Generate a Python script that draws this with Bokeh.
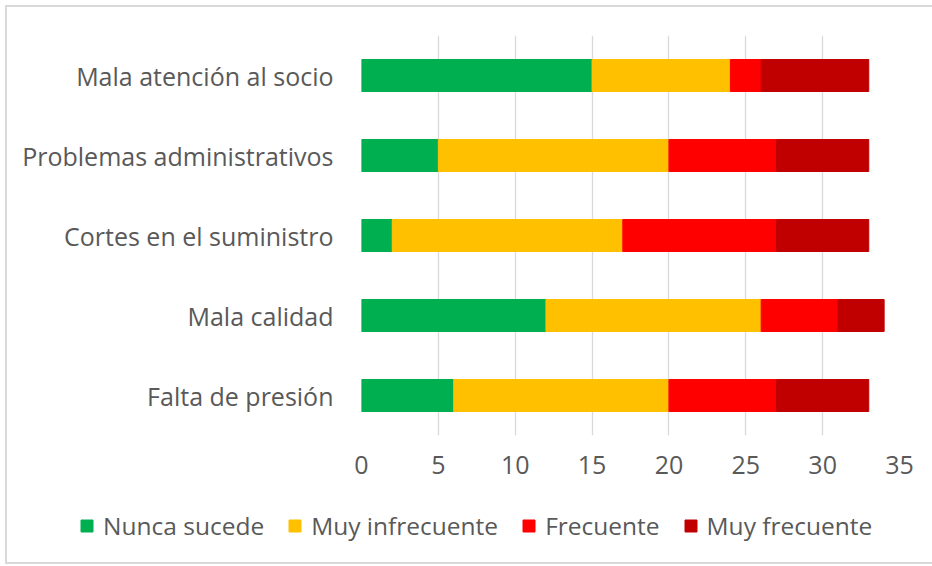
from bokeh.plotting import figure
from bokeh.models import ColumnDataSource, Legend, LegendItem, FactorRange, Range1d
from bokeh.layouts import column
from bokeh.embed import file_html
from bokeh.resources import INLINE

categories = ["Falta de presión", "Mala calidad", "Cortes en el suministro",
              "Problemas administrativos", "Mala atención al socio"]
series = ["Nunca sucede", "Muy infrecuente", "Frecuente", "Muy frecuente"]
nunca = [6, 12, 2, 5, 15]
muy_infrecuente = [14, 14, 15, 15, 9]
frecuente = [7, 5, 10, 7, 2]
muy_frecuente = [6, 3, 6, 6, 7]
colors = ["#00B050", "#FFC000", "#FF0000", "#C00000"]
x_ticks = [0, 5, 10, 15, 20, 25, 30, 35]

FONT = "Open Sans"
TXT = "#595959"
W = 925
OFF = 7  # offset of the chart area inside the light grey border

source = ColumnDataSource(dict(cat=categories, s0=nunca, s1=muy_infrecuente,
                               s2=frecuente, s3=muy_frecuente))

p = figure(width=W, height=483, y_range=FactorRange(factors=categories),
           x_range=Range1d(0, 35), output_backend="svg", toolbar_location=None)
p.border_fill_color = "white"
p.outline_line_color = None
p.frame_align = False

renderers = p.hbar_stack(["s0", "s1", "s2", "s3"], y="cat", height=0.4,
                         color=colors, source=source)

p.ygrid.grid_line_color = None
p.xgrid.grid_line_color = "#D9D9D9"
p.xgrid.grid_line_width = 1.3
p.xaxis.ticker = x_ticks
p.xaxis.axis_line_color = None
p.xaxis.major_tick_line_color = None
p.xaxis.minor_tick_line_color = None
p.xaxis.major_label_text_font = FONT
p.xaxis.major_label_text_font_size = "25px"
p.xaxis.major_label_text_color = TXT
p.xaxis.major_label_standoff = 14

p.yaxis.axis_line_color = None
p.yaxis.major_tick_line_color = None
p.yaxis.minor_tick_line_color = None
p.yaxis.major_label_text_font = FONT
p.yaxis.major_label_text_font_size = "25px"
p.yaxis.major_label_text_color = TXT
p.yaxis.major_label_standoff = 22

p.min_border = 0
p.min_border_left = 361 - OFF
p.min_border_right = W - (899 - OFF)
p.min_border_top = 35 - OFF
p.min_border_bottom = 55

# legend strip: a separate figure so the legend can span the full width;
# its bar renderers are hidden, only the legend swatches show.
lg = figure(width=W, height=72, x_range=Range1d(0, 35),
            y_range=FactorRange(factors=categories),
            output_backend="svg", toolbar_location=None,
            x_axis_type=None, y_axis_type=None, min_border=0)
lg.frame_align = False
lg.outline_line_color = None
lg.xgrid.grid_line_color = None
lg.ygrid.grid_line_color = None
leg_renderers = lg.hbar_stack(["s0", "s1", "s2", "s3"], y="cat", height=0.4,
                              color=colors, source=source)
for r in leg_renderers:
    r.visible = False
items = [LegendItem(label=s, renderers=[r]) for s, r in zip(series, leg_renderers)]
legend = Legend(items=items, orientation="horizontal", location=(79 - OFF, 20),
                glyph_width=15, glyph_height=15, label_standoff=9, spacing=23,
                label_text_font=FONT, label_text_font_size="24.5px",
                label_text_color=TXT, border_line_color=None,
                background_fill_alpha=0, inactive_fill_alpha=0,
                padding=0, margin=0)
lg.add_layout(legend, "center")

layout = column(p, lg, spacing=0)
layout.styles = {"margin-left": "5px", "margin-top": "5px",
                 "border-top": "2px solid #D9D9D9",
                 "border-left": "2px solid #D9D9D9",
                 "border-bottom": "2px solid #D9D9D9"}
open("out.html", "w").write(file_html(layout, INLINE))
